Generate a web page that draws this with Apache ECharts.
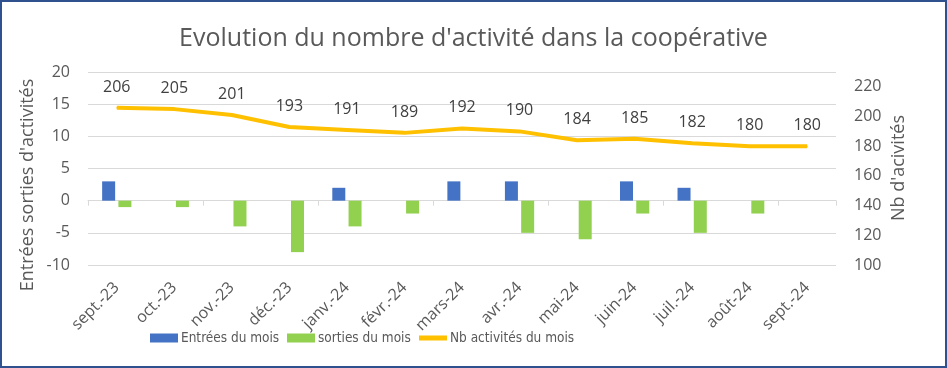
<!DOCTYPE html>
<html><head><meta charset="utf-8">
<script src="https://cdn.jsdelivr.net/npm/echarts@6/dist/echarts.min.js"></script>
<style>
html,body{margin:0;padding:0;background:#fff;}
#frame{position:absolute;left:0;top:0;width:943px;height:364px;border:2px solid #2F528F;}
#c{position:absolute;left:-2px;top:-2px;width:947px;height:368px;}
</style></head>
<body><div id="frame"><div id="c"></div></div>
<script>
const categories = ['sept.-23','oct.-23','nov.-23','déc.-23','janv.-24','févr.-24','mars-24','avr.-24','mai-24','juin-24','juil.-24','août-24','sept.-24'];
const entrees = [3,0,0,0,2,0,3,3,0,3,2,0,0];
const sorties = [-1,-1,-4,-8,-4,-2,0,-5,-6,-2,-5,-2,0];
const nbActivites = [206,205,201,193,191,189,192,190,184,185,182,180,180];
const leftTicks = {min:-10,max:20,interval:5};
const rightTicks = {min:100,max:230,interval:20};

const txt = '#595959';
const font = 'Open Sans';
const narrow = '"DejaVu Sans Condensed", "Open Sans"';
const legText = {fontFamily:narrow,fontSize:13.5,color:txt,padding:[0,0,0,-2]};
function leg(name, icon, left){
  return {top:331,left:left,padding:0,itemWidth:28,itemHeight:9,textStyle:legText,data:[{name:name,icon:icon}]};
}
const chart = echarts.init(document.getElementById('c'));
chart.setOption({
  animation:false,
  textStyle:{fontFamily:font,color:txt},
  title:{text:"Evolution du nombre d'activité dans la coopérative",left:'center',top:21,
    textStyle:{fontFamily:font,fontWeight:'normal',fontSize:25,color:txt}},
  legend:[
    leg('Entrées du mois','rect',150),
    leg('sorties du mois','rect',287),
    leg('Nb activités du mois','path://M0,2 L28,2 L28,7 L0,7 Z',419)
  ],
  grid:{left:88,right:111,top:72,bottom:103},
  graphic:[
    {type:'text',x:28,y:185,rotation:Math.PI/2,style:{text:"Entrées sorties d'activités",fontSize:18,fontFamily:font,fill:txt,align:'center',verticalAlign:'middle'}},
    {type:'text',x:899,y:168,rotation:Math.PI/2,style:{text:"Nb d'acivités",fontSize:18,fontFamily:font,fill:txt,align:'center',verticalAlign:'middle'}}
  ],
  xAxis:[
    {type:'category',data:categories,boundaryGap:true,
      axisLine:{onZero:true,lineStyle:{color:'#d9d9d9',width:1}},
      axisTick:{show:true,length:5,lineStyle:{color:'#d9d9d9'}},
      axisLabel:{show:false},splitLine:{show:false}},
    {type:'category',data:categories,position:'bottom',boundaryGap:true,
      axisLine:{show:false,onZero:false},axisTick:{show:false},
      axisLabel:{rotate:45,margin:20,fontSize:16,color:txt,fontFamily:font,interval:0}}
  ],
  yAxis:[
    {type:'value',min:leftTicks.min,max:leftTicks.max,interval:leftTicks.interval,
      axisLine:{show:false},axisTick:{show:false},
      axisLabel:{fontSize:16,color:txt,margin:18},
      splitLine:{lineStyle:{color:'#d9d9d9',width:1}}},
    {type:'value',min:rightTicks.min,max:rightTicks.max,interval:rightTicks.interval,
      axisLine:{show:false},axisTick:{show:false},
      axisLabel:{fontSize:16,color:txt,margin:18,showMaxLabel:false},
      splitLine:{show:false}}
  ],
  series:[
    {name:'Entrées du mois',type:'bar',data:entrees,barWidth:13,barGap:'25%',itemStyle:{color:'#4472C4'}},
    {name:'sorties du mois',type:'bar',data:sorties,barWidth:13,barGap:'25%',itemStyle:{color:'#92D050'}},
    {name:'Nb activités du mois',type:'line',yAxisIndex:1,data:nbActivites,symbol:'circle',symbolSize:1,showSymbol:true,
      lineStyle:{color:'#FFC000',width:4},itemStyle:{color:'#FFC000'},
      label:{show:true,position:'top',distance:12,fontSize:16,color:'#404040',fontFamily:font}}
  ]
});
</script></body></html>
